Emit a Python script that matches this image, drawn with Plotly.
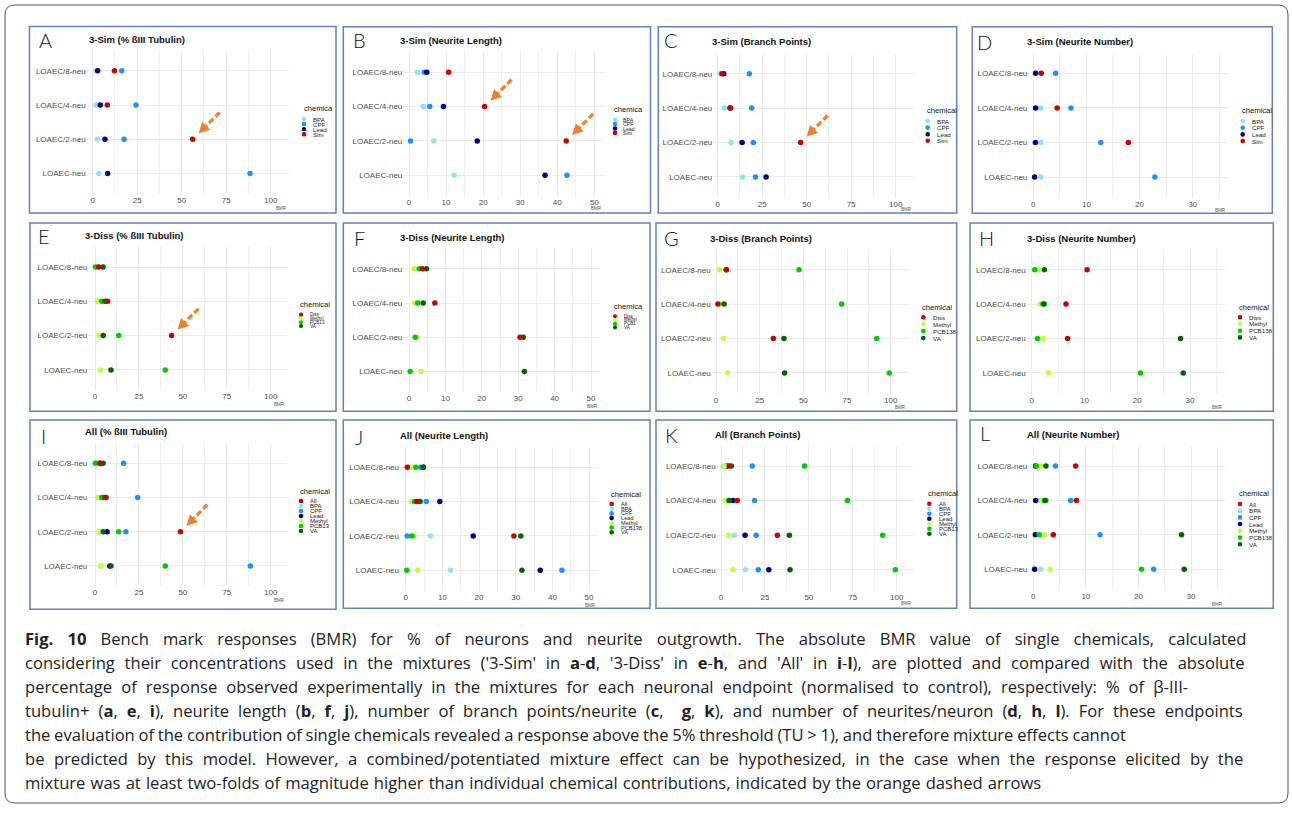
import plotly.graph_objects as go

W, H = 1292, 816

# ---------------- data ----------------
rows = ["LOAEC/8-neu", "LOAEC/4-neu", "LOAEC/2-neu", "LOAEC-neu"]
row_axis_order = rows[::-1]

chem_colors = {
    "BPA": "#8EE5EE", "CPF": "#1E90FF", "Lead": "#00008B",
    "Sim": "#CD0000", "Diss": "#CD0000", "All": "#CD0000",
    "Methyl": "#C0FF3E", "PCB138": "#00CD00", "VA": "#006400",
}

# BMR values per row (LOAEC/8, LOAEC/4, LOAEC/2, LOAEC)
tubulin = {
    "BPA": [2.0, 1.9, 2.6, 3.4], "CPF": [16.3, 24.3, 17.6, 88.4],
    "Lead": [2.8, 4.3, 6.9, 8.4], "Sim": [12.2, 8.2, 56.2, None],
    "Diss": [2.1, 7.2, 43.6, None], "Methyl": [1.0, 1.3, 2.3, 3.2],
    "PCB138": [0.2, 3.8, 13.5, 40.0], "VA": [4.6, 5.7, 4.7, 9.1],
    "All": [2.8, 6.3, 48.6, None],
}
length = {
    "BPA": [2.3, 3.9, 6.7, 12.2], "CPF": [4.1, 5.6, 0.4, 42.6],
    "Lead": [4.8, 9.3, 18.4, 36.7], "Sim": [10.7, 20.4, 42.4, None],
    "Diss": [3.7, 7.1, 30.5, None], "Methyl": [1.4, 1.6, 2.2, 3.3],
    "PCB138": [2.8, 2.4, 1.7, 0.3], "VA": [4.8, 3.9, 31.4, 31.7],
    "All": [0.45, 3.0, 29.5, None],
}
branch = {
    "BPA": [1.3, 3.6, 7.5, 14.0], "CPF": [17.8, 19.1, 20.0, 21.2],
    "Lead": [3.4, 6.9, 13.7, 27.2], "Sim": [2.4, 7.3, 46.6, None],
    "Diss": [5.9, 1.1, 32.8, None], "Methyl": [2.1, 2.3, 4.2, 6.7],
    "PCB138": [47.5, 71.9, 92.0, 99.2], "VA": [5.9, 4.6, 38.9, 39.3],
    "All": [4.7, 9.3, 32.1, None],
}
number = {
    "BPA": [0.5, 1.4, 1.4, 1.4], "CPF": [4.2, 7.1, 12.7, 22.9],
    "Lead": [0.44, 0.44, 0.4, 0.25], "Sim": [1.5, 4.5, 17.9, None],
    "Diss": [10.5, 6.5, 6.8, None], "Methyl": [1.4, 1.6, 2.1, 3.2],
    "PCB138": [0.57, 2.4, 1.1, 20.6], "VA": [2.4, 2.2, 28.2, 28.7],
    "All": [8.05, 8.2, 3.8, None],
}

endpoints = {
    "tub": ("% ßIII Tubulin", tubulin, 25, 12.5),
    "len": ("Neurite Length", length, 10, 5),
    "bra": ("Branch Points", branch, 25, 12.5),
    "num": ("Neurite Number", number, 10, 5),
}
groups = {
    "3-Sim": (["BPA", "CPF", "Lead"], "Sim"),
    "3-Diss": (["Methyl", "PCB138", "VA"], "Diss"),
    "All": (["BPA", "CPF", "Lead", "Methyl", "PCB138", "VA"], "All"),
}

arrows = [("A", "LOAEC/2-neu"), ("B", "LOAEC/4-neu"), ("B", "LOAEC/2-neu"),
          ("C", "LOAEC/2-neu"), ("E", "LOAEC/2-neu"), ("I", "LOAEC/2-neu")]

caption = [
    "<b>Fig. 10</b> Bench mark responses (BMR) for % of neurons and neurite outgrowth. The absolute BMR value of single chemicals, calculated",
    "considering their concentrations used in the mixtures ('3-Sim' in <b>a</b>-<b>d</b>, '3-Diss' in <b>e</b>-<b>h</b>, and 'All' in <b>i</b>-<b>l</b>), are plotted and compared with the absolute",
    "percentage of response observed experimentally in the mixtures for each neuronal endpoint (normalised to control), respectively: % of β-III-",
    "tubulin+ (<b>a</b>, <b>e</b>, <b>i</b>), neurite length (<b>b</b>, <b>f</b>, <b>j</b>), number of branch points/neurite (<b>c</b>,  <b>g</b>, <b>k</b>), and number of neurites/neuron (<b>d</b>, <b>h</b>, <b>l</b>). For these endpoints",
    "the evaluation of the contribution of single chemicals revealed a response above the 5% threshold (TU &gt; 1), and therefore mixture effects cannot",
    "be predicted by this model. However, a combined/potentiated mixture effect can be hypothesized, in the case when the response elicited by the",
    "mixture was at least two-folds of magnitude higher than individual chemical contributions, indicated by the orange dashed arrows",
]
# extra word spacing (px) reproducing the justified caption lines
caption_word_spacing = [9.8, 5.4, 4.7, 4.7, -0.6, 5.1, 0.8]

# ---------------- layout geometry (pixels) ----------------
panels = [
    dict(L="A", g="3-Sim", ep="tub", box=(29.5, 26.5, 336, 213), let=(36.5, 40), tit=(86.7, 39),
         x0=92.7, s=1.78, xl=86.7, xr=289.3, ytop=70.7, sp=34.3,
         leg=(301.7, 108.3, 304, 310.7, 119, 5.1), bmr=(289, 208.3), lt="chemica", pcb="PCB138"),
    dict(L="B", g="3-Sim", ep="len", box=(343.3, 26.7, 650.5, 213), let=(351.5, 40), tit=(398.3, 40),
         x0=409, s=3.707, xl=403.3, xr=604.3, ytop=72.3, sp=34.3,
         leg=(611.7, 110, 615, 621, 119.7, 4.4), bmr=(604, 209), lt="chemica", pcb="PCB138"),
    dict(L="C", g="3-Sim", ep="bra", box=(658.3, 26.7, 956.7, 213), let=(661.7, 40), tit=(710, 41.7),
         x0=717.7, s=1.78, xl=713.3, xr=914, ytop=73.7, sp=34.4,
         leg=(925, 111, 927.7, 935, 121, 6.6), bmr=(914, 210), lt="chemical", pcb="PCB138"),
    dict(L="D", g="3-Sim", ep="num", box=(972.3, 26.7, 1272.3, 213.3), let=(975, 41.7), tit=(1025, 41.7),
         x0=1033.3, s=5.31, xl=1028.3, xr=1228.3, ytop=73.3, sp=34.6,
         leg=(1240, 111, 1242.7, 1250, 121, 6.7), bmr=(1228, 211), lt="chemical", pcb="PCB138"),
    dict(L="E", g="3-Diss", ep="tub", box=(30, 223, 336, 411.3), let=(36, 236.3), tit=(83.3, 235.3),
         x0=95, s=1.757, xl=88.3, xr=286.7, ytop=267, sp=34.3,
         leg=(298.3, 304, 301, 308.3, 314.7, 3.8), bmr=(286.7, 404), lt="chemical", pcb="PCB13"),
    dict(L="F", g="3-Diss", ep="len", box=(343.3, 223, 650, 411.3), let=(351.7, 238), tit=(398.3, 237.3),
         x0=409, s=3.64, xl=403.3, xr=600, ytop=268.7, sp=34.3,
         leg=(612.3, 306.3, 615, 621.7, 316.3, 3.7), bmr=(600, 406.3), lt="chemica", pcb="PCB1"),
    dict(L="G", g="3-Diss", ep="bra", box=(656, 223, 956.7, 411.3), let=(661.7, 238), tit=(708.3, 238),
         x0=716, s=1.747, xl=711.7, xr=908.3, ytop=269.7, sp=34.4,
         leg=(920, 307.3, 923.3, 930.7, 317.3, 6.9), bmr=(908, 407.3), lt="chemical", pcb="PCB138"),
    dict(L="H", g="3-Diss", ep="num", box=(970, 223, 1273.3, 411.3), let=(976.7, 238), tit=(1025, 238),
         x0=1031.7, s=5.278, xl=1026.7, xr=1225, ytop=269.7, sp=34.4,
         leg=(1236.7, 307.3, 1240, 1247, 317.3, 6.7), bmr=(1225, 407.3), lt="chemical", pcb="PCB138"),
    dict(L="I", g="All", ep="tub", box=(30, 420, 336, 609.3), let=(39, 435.7), tit=(83.3, 431),
         x0=95, s=1.757, xl=88.3, xr=286.7, ytop=463.3, sp=34.2,
         leg=(298.3, 491, 301, 308.3, 501, 5.0), bmr=(286.7, 600), lt="chemical", pcb="PCB13"),
    dict(L="J", g="All", ep="len", box=(343.3, 420, 650, 608.3), let=(353, 436.7), tit=(398.3, 435.7),
         x0=405.7, s=3.667, xl=400, xr=598.3, ytop=467.3, sp=34.3,
         leg=(609, 495, 611.7, 619, 504, 4.7), bmr=(598, 605), lt="chemical", pcb="PCB138"),
    dict(L="K", g="All", ep="bra", box=(656, 420, 956.7, 608.3), let=(663, 435), tit=(713.3, 434.3),
         x0=721, s=1.757, xl=716.7, xr=914, ytop=466, sp=34.6,
         leg=(926, 494, 929.3, 936.7, 503.7, 5.0), bmr=(914, 603.3), lt="chemical", pcb="PCB13"),
    dict(L="L", g="All", ep="num", box=(970, 420, 1273.3, 608.3), let=(977.7, 433.3), tit=(1025, 434.3),
         x0=1033.3, s=5.257, xl=1028.3, xr=1225, ytop=466, sp=34.4,
         leg=(1236.7, 494, 1240, 1247.3, 504, 6.7), bmr=(1225, 604.3), lt="chemical", pcb="PCB138"),
]

FONT = "Liberation Sans, Arial, sans-serif"
GRID = "#EBEBEB"
ORANGE = "#EE7F2D"
BOXC = "#5F83B7"


def px2x(v):
    return v / W


def px2y(v):
    return 1 - v / H


fig = go.Figure()
axes = {}
shapes = []
annotations = []
panel_axes = {}

for i, p in enumerate(panels, start=1):
    xa = "x" if i == 1 else f"x{i}"
    ya = "y" if i == 1 else f"y{i}"
    panel_axes[p["L"]] = (xa, ya, p)
    label, data, dmaj, dmin = endpoints[p["ep"]]
    singles, mix = groups[p["g"]]
    x_lo = (p["xl"] - p["x0"]) / p["s"]
    x_hi = (p["xr"] - p["x0"]) / p["s"]
    y_top = p["ytop"] - 0.6 * p["sp"]
    y_bot = p["ytop"] + 3.6 * p["sp"]
    axes["xaxis" if i == 1 else f"xaxis{i}"] = dict(
        domain=[px2x(p["xl"]), px2x(p["xr"])], range=[x_lo, x_hi], anchor=ya,
        tickmode="linear", tick0=0, dtick=dmaj, showgrid=True, gridcolor=GRID, gridwidth=1,
        zeroline=False, showline=False, ticks="",
        tickfont=dict(family=FONT, size=8, color="#4D4D4D"),
        minor=dict(tick0=0, dtick=dmin, showgrid=True, gridcolor="#EFEFEF", gridwidth=0.8, ticks=""),
        fixedrange=True)
    axes["yaxis" if i == 1 else f"yaxis{i}"] = dict(
        domain=[px2y(y_bot), px2y(y_top)], range=[-0.6, 3.6], anchor=xa,
        type="category", categoryorder="array", categoryarray=row_axis_order,
        showgrid=True, gridcolor=GRID, gridwidth=1, zeroline=False, showline=False, ticks="",
        tickfont=dict(family=FONT, size=8, color="#4D4D4D"), fixedrange=True)

    for chem in singles + [mix]:
        fig.add_trace(go.Scatter(
            x=data[chem], y=rows, mode="markers", xaxis=xa, yaxis=ya, showlegend=False,
            marker=dict(color=chem_colors[chem], size=5.5, line=dict(width=0)),
            cliponaxis=False, hoverinfo="x+y"))

    # panel frame
    l, t, r, b = p["box"]
    shapes.append(dict(type="rect", xref="paper", yref="paper", x0=px2x(l), x1=px2x(r),
                       y0=px2y(b), y1=px2y(t), line=dict(color=BOXC, width=1.5), layer="above"))
    # panel letter
    annotations.append(dict(text=p["L"], x=px2x(p["let"][0]), y=px2y(p["let"][1]), xref="paper", yref="paper",
                            xanchor="left", yanchor="middle", showarrow=False,
                            font=dict(family="Lato, Open Sans, sans-serif", size=20, color="#111", weight=300)))
    # title
    annotations.append(dict(text=f"<b>{p['g']} ({label})</b>", x=px2x(p["tit"][0]), y=px2y(p["tit"][1]),
                            xref="paper", yref="paper", xanchor="left", yanchor="middle", showarrow=False,
                            font=dict(family=FONT, size=9.5, color="#111")))
    # x axis title (BMR)
    annotations.append(dict(text="BMR", x=px2x(p["bmr"][0]), y=px2y(p["bmr"][1]), xref="paper", yref="paper",
                            xanchor="right", yanchor="middle", showarrow=False,
                            font=dict(family=FONT, size=4.5, color="#555")))
    # legend
    tx, ty, dotx, textx, y0, dy = p["leg"]
    annotations.append(dict(text=p["lt"], x=px2x(tx), y=px2y(ty), xref="paper", yref="paper",
                            xanchor="left", yanchor="middle", showarrow=False,
                            font=dict(family=FONT, size=7.6, color="#111")))
    fs = min(6.2, dy * 1.2)
    rad = min(2.3, dy * 0.55)
    for k, chem in enumerate(sorted(singles + [mix])):
        yy = y0 + k * dy
        shapes.append(dict(type="circle", xref="paper", yref="paper",
                           x0=px2x(dotx - rad), x1=px2x(dotx + rad), y0=px2y(yy + rad), y1=px2y(yy - rad),
                           fillcolor=chem_colors[chem], line=dict(width=0), layer="above"))
        name = p["pcb"] if chem == "PCB138" else chem
        annotations.append(dict(text=name, x=px2x(textx), y=px2y(yy), xref="paper", yref="paper",
                                xanchor="left", yanchor="middle", showarrow=False,
                                font=dict(family=FONT, size=fs, color="#222")))

# orange dashed arrows pointing at mixture effects
for letter, row in arrows:
    xa, ya, p = panel_axes[letter]
    data = endpoints[p["ep"]][1]
    mix = groups[p["g"]][1]
    xv = data[mix][rows.index(row)]
    common = dict(xref=xa, yref=ya, xsizemode="pixel", ysizemode="pixel", xanchor=xv, yanchor=row, layer="above")
    shapes.append(dict(type="line", x0=27, y0=27, x1=12, y1=12,
                       line=dict(color=ORANGE, width=3.2, dash="6px,3px"), **common))
    shapes.append(dict(type="path", path="M 6 6 L 17.5 9.5 L 9.5 17.5 Z",
                       fillcolor=ORANGE, line=dict(width=0), **common))

# outer frame
fl, ft, fr, fb, rr = 5, 5, 1288, 803, 10
path = (f"M {px2x(fl + rr)} {px2y(ft)} L {px2x(fr - rr)} {px2y(ft)} "
        f"Q {px2x(fr)} {px2y(ft)} {px2x(fr)} {px2y(ft + rr)} L {px2x(fr)} {px2y(fb - rr)} "
        f"Q {px2x(fr)} {px2y(fb)} {px2x(fr - rr)} {px2y(fb)} L {px2x(fl + rr)} {px2y(fb)} "
        f"Q {px2x(fl)} {px2y(fb)} {px2x(fl)} {px2y(fb - rr)} L {px2x(fl)} {px2y(ft + rr)} "
        f"Q {px2x(fl)} {px2y(ft)} {px2x(fl + rr)} {px2y(ft)} Z")
shapes.append(dict(type="path", xref="paper", yref="paper", path=path,
                   line=dict(color="#555555", width=1), layer="above"))

# caption
for k, line in enumerate(caption):
    annotations.append(dict(
        text=f"<span style='word-spacing:{caption_word_spacing[k]}px'>{line}</span>",
        x=px2x(23), y=px2y(638 + 24 * k), xref="paper", yref="paper",
        xanchor="left", yanchor="middle", showarrow=False,
        font=dict(family="Open Sans, Noto Sans, sans-serif", size=16.6, color="#222")))

fig.update_layout(
    width=W, height=H, margin=dict(l=0, r=0, t=0, b=0),
    paper_bgcolor="white", plot_bgcolor="white",
    shapes=shapes, annotations=annotations, showlegend=False, **axes)

fig.write_html("out.html", config={"displayModeBar": False},
               post_script="document.body.style.margin='0px';")
